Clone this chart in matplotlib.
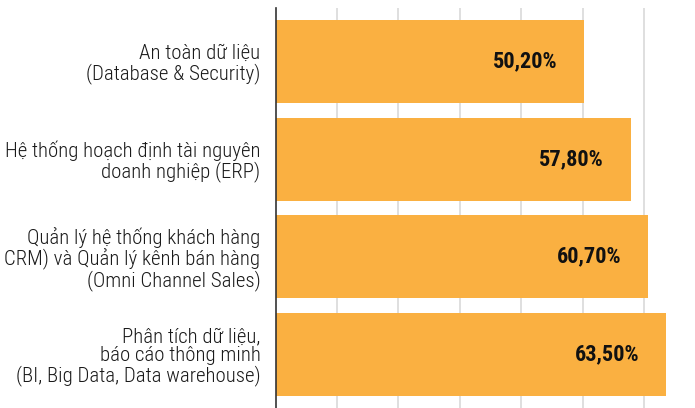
import matplotlib
matplotlib.use("Agg")
import matplotlib.pyplot as plt
from matplotlib import font_manager

categories = [
    "An toàn dữ liệu\n(Database & Security)",
    "Hệ thống hoạch định tài nguyên\ndoanh nghiệp (ERP)",
    "Quản lý hệ thống khách hàng\nCRM) và Quản lý kênh bán hàng\n(Omni Channel Sales)",
    "Phân tích dữ liệu,\nbáo cáo thông minh\n(BI, Big Data, Data warehouse)",
]
values = [50.2, 57.8, 60.7, 63.5]
value_labels = ["50,20%", "57,80%", "60,70%", "63,50%"]

names = {f.name for f in font_manager.fontManager.ttflist}
fam = "Roboto"
for cand in ["Roboto Condensed", "Liberation Sans Narrow", "Open Sans Condensed"]:
    if cand in names:
        fam = cand
        break

fig = plt.figure(figsize=(6.95, 4.08), dpi=100)
ax = fig.add_axes([275.7 / 695, 0, 1 - 275.7 / 695, 400 / 408])

y = list(range(len(categories)))
ax.barh(y, values, height=0.85, color="#FAB041", zorder=2)
ax.set_ylim(3.55, -0.55)
ax.set_xlim(0, 68.3)
ax.set_xticks([10, 20, 30, 40, 50, 60])
ax.xaxis.grid(True, color="#d9d9d9", linewidth=1.2, zorder=0)
ax.set_axisbelow(True)
ax.tick_params(axis="x", length=0, labelbottom=False)
ax.tick_params(axis="y", length=0, pad=11)
ax.set_yticks(y)
ax.set_yticklabels(categories, fontsize=15, fontweight="light",
                   family=[fam, "DejaVu Sans"], color="#1a1a1a", linespacing=1.0)
for s in ["top", "right", "bottom"]:
    ax.spines[s].set_visible(False)
ax.spines["left"].set_color("#333333")
ax.spines["left"].set_linewidth(1.2)

for yi, v, lab in zip(y, values, value_labels):
    ax.annotate(lab, (v, yi), xytext=(-19, 0), textcoords="offset points",
                ha="right", va="center", fontsize=16, fontweight="bold",
                family=[fam, "DejaVu Sans"], color="#111111", zorder=3)

fig.savefig("out.png", dpi=100)
